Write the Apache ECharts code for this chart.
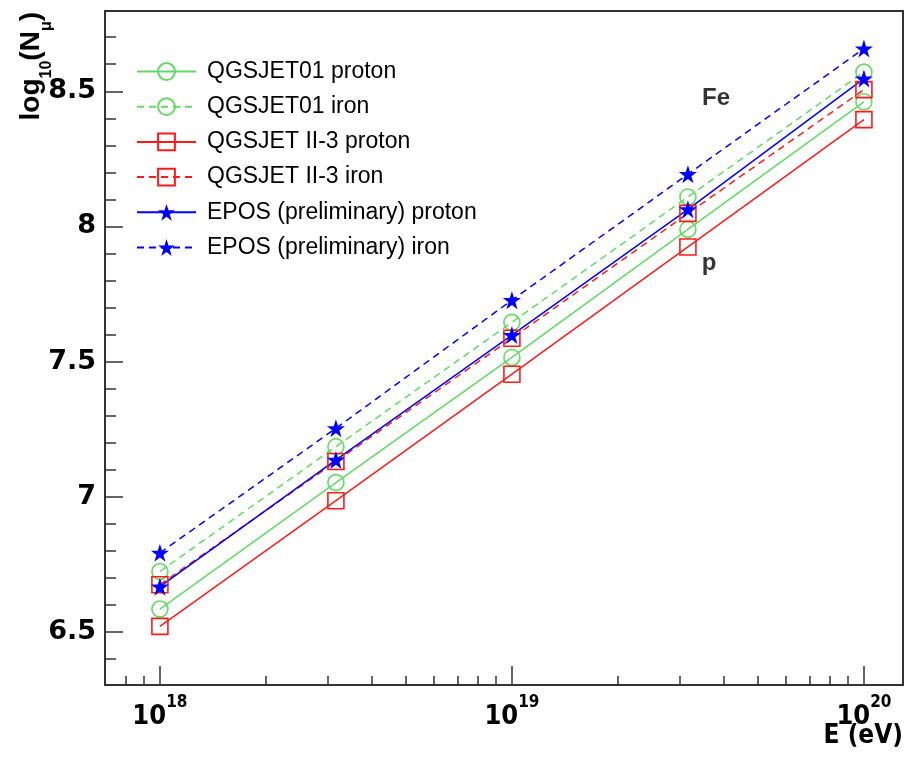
<!DOCTYPE html>
<html>
<head>
<meta charset="utf-8">
<script src="https://cdn.jsdelivr.net/npm/echarts@6/dist/echarts.min.js"></script>
<style>
html,body{margin:0;padding:0;background:#fff;}
#chart{width:916px;height:759px;}
</style>
</head>
<body>
<div id="chart"></div>
<script>
// log10(E/eV)
var lgE = [18, 18.5, 19, 19.5, 20];
var seriesNames = [
  'QGSJET01 proton', 'QGSJET01 iron',
  'QGSJET II-3 proton', 'QGSJET II-3 iron',
  'EPOS (preliminary) proton', 'EPOS (preliminary) iron'
];
var qgs01Proton = [6.584, 7.052, 7.515, 7.989, 8.461];
var qgs01Iron   = [6.723, 7.185, 7.645, 8.109, 8.571];
var qgs2Proton  = [6.520, 6.985, 7.453, 7.924, 8.395];
var qgs2Iron    = [6.674, 7.130, 7.586, 8.048, 8.506];
var eposProton  = [6.667, 7.136, 7.598, 8.063, 8.547];
var eposIron    = [6.792, 7.253, 7.727, 8.193, 8.658];

var yMajorTicks = [6.5, 7, 7.5, 8, 8.5];
var yMinorTicks = [6.4, 6.6, 6.7, 6.8, 6.9, 7.1, 7.2, 7.3, 7.4, 7.6, 7.7, 7.8, 7.9, 8.1, 8.2, 8.3, 8.4, 8.6, 8.7];
var xMajorTicks = [18, 19, 20];
var xMinorMultipliers = [2, 3, 4, 5, 6, 7, 8, 9];
var annotationText = ['Fe', 'p'];
var annotationX = [19.58, 19.56];
var annotationY = [8.474, 7.864];

var xMinorTicks = [Math.log10(8) + 17, Math.log10(9) + 17];
[18, 19].forEach(function (d) {
  xMinorMultipliers.forEach(function (k) { xMinorTicks.push(d + Math.log10(k)); });
});

var GREEN = '#62d962', RED = '#ff1a1a', BLUE = '#0000ff';
var STAR = 'path://M50,0 L61.8,35.4 L99,35.4 L69,57.3 L80.3,92.7 L50,70.8 L19.7,92.7 L31,57.3 L1,35.4 L38.2,35.4 Z';

function pts(arr) { return arr.map(function (v, i) { return [lgE[i], v]; }); }

function mk(name, data, color, dashed, symbol, filled) {
  return {
    name: name,
    type: 'line',
    data: pts(data),
    symbol: symbol,
    symbolSize: filled ? 18 : 16,
    showSymbol: true,
    lineStyle: { color: color, width: 1.5, type: dashed ? [7, 5] : 'solid' },
    itemStyle: filled ? { color: color } : { color: 'rgba(255,255,255,0)', borderColor: color, borderWidth: 1.6 },
    emphasis: { disabled: true },
    animation: false,
    z: 3
  };
}

var chart = echarts.init(document.getElementById('chart'), null, { renderer: 'canvas' });
var tickFont = 'Liberation Sans';

var option = {
  animation: false,
  backgroundColor: '#fff',
  grid: {
    left: 105, right: 13, top: 11, bottom: 74,
    show: true, borderColor: '#333', borderWidth: 2, backgroundColor: 'transparent'
  },
  legend: {
    data: seriesNames,
    orient: 'vertical',
    left: 136, top: 60, padding: 0,
    itemWidth: 59, itemHeight: 21, itemGap: 12.2,
    selectedMode: false,
    textStyle: { fontFamily: tickFont, fontSize: 23, color: '#000', lineHeight: 23, padding: [0, 0, 0, 6] }
  },
  xAxis: [{
    type: 'value', min: 17.844, max: 20.111,
    axisLine: { show: false },
    splitLine: { show: false },
    axisTick: { show: true, inside: true, length: 19, customValues: xMajorTicks, lineStyle: { color: '#333', width: 1.5 } },
    axisLabel: {
      show: true, margin: 9,
      customValues: xMajorTicks,
      formatter: function (v) { return '{b|10}{s|' + Math.round(v) + '}'; },
      rich: {
        b: { fontFamily: 'DejaVu Sans Condensed', fontWeight: 'bold', fontSize: 27, color: '#000', verticalAlign: 'bottom', lineHeight: 36 },
        s: { fontFamily: 'DejaVu Sans Condensed', fontWeight: 'bold', fontSize: 17, color: '#000', verticalAlign: 'top', lineHeight: 36 }
      }
    }
  }, {
    type: 'value', min: 17.844, max: 20.111, position: 'bottom',
    axisLine: { show: false },
    splitLine: { show: false },
    axisTick: { show: true, inside: true, length: 9, customValues: xMinorTicks, lineStyle: { color: '#333', width: 1.5 } },
    axisLabel: { show: false }
  }],
  yAxis: [{
    type: 'value', min: 6.303, max: 8.797,
    axisLine: { show: false },
    splitLine: { show: false },
    axisTick: { show: true, inside: true, length: 18, customValues: yMajorTicks, lineStyle: { color: '#333', width: 1.5 } },
    axisLabel: {
      show: true, margin: 9, customValues: yMajorTicks,
      formatter: function (v) { return String(v); },
      fontFamily: 'DejaVu Sans', fontWeight: 'bold', fontSize: 27, color: '#000'
    }
  }, {
    type: 'value', min: 6.303, max: 8.797, position: 'left',
    axisLine: { show: false },
    splitLine: { show: false },
    axisTick: { show: true, inside: true, length: 11, customValues: yMinorTicks, lineStyle: { color: '#333', width: 1.5 } },
    axisLabel: { show: false }
  }],
  graphic: [{
    type: 'text',
    x: 36, y: 12,
    rotation: Math.PI / 2,
    style: {
      text: '{b|log}{s|10}{b|(N}{s|μ}{b|)}',
      align: 'right', verticalAlign: 'middle',
      rich: {
        b: { fontFamily: tickFont, fontWeight: 'bold', fontSize: 28, fill: '#000', verticalAlign: 'top', lineHeight: 38 },
        s: { fontFamily: tickFont, fontWeight: 'bold', fontSize: 16, fill: '#000', verticalAlign: 'bottom', lineHeight: 38 }
      }
    }
  }, {
    type: 'text',
    right: 13, top: 723,
    style: { text: 'E (eV)', fontFamily: 'DejaVu Sans Condensed', fontWeight: 'bold', fontSize: 26, fill: '#000' }
  }],
  series: [
    mk(seriesNames[0], qgs01Proton, GREEN, false, 'circle', false),
    mk(seriesNames[1], qgs01Iron, GREEN, true, 'circle', false),
    mk(seriesNames[2], qgs2Proton, RED, false, 'rect', false),
    mk(seriesNames[3], qgs2Iron, RED, true, 'rect', false),
    mk(seriesNames[4], eposProton, BLUE, false, STAR, true),
    mk(seriesNames[5], eposIron, BLUE, true, STAR, true),
    {
      name: 'annotations',
      type: 'scatter',
      symbolSize: 0,
      silent: true,
      data: annotationText.map(function (t, i) { return { value: [annotationX[i], annotationY[i]], name: t }; }),
      label: {
        show: true, position: 'inside',
        formatter: function (p) { return p.name; },
        fontFamily: tickFont, fontWeight: 'bold', fontSize: 24, color: '#000'
      },
      z: 5
    }
  ]
};
chart.setOption(option);
</script>
</body>
</html>
